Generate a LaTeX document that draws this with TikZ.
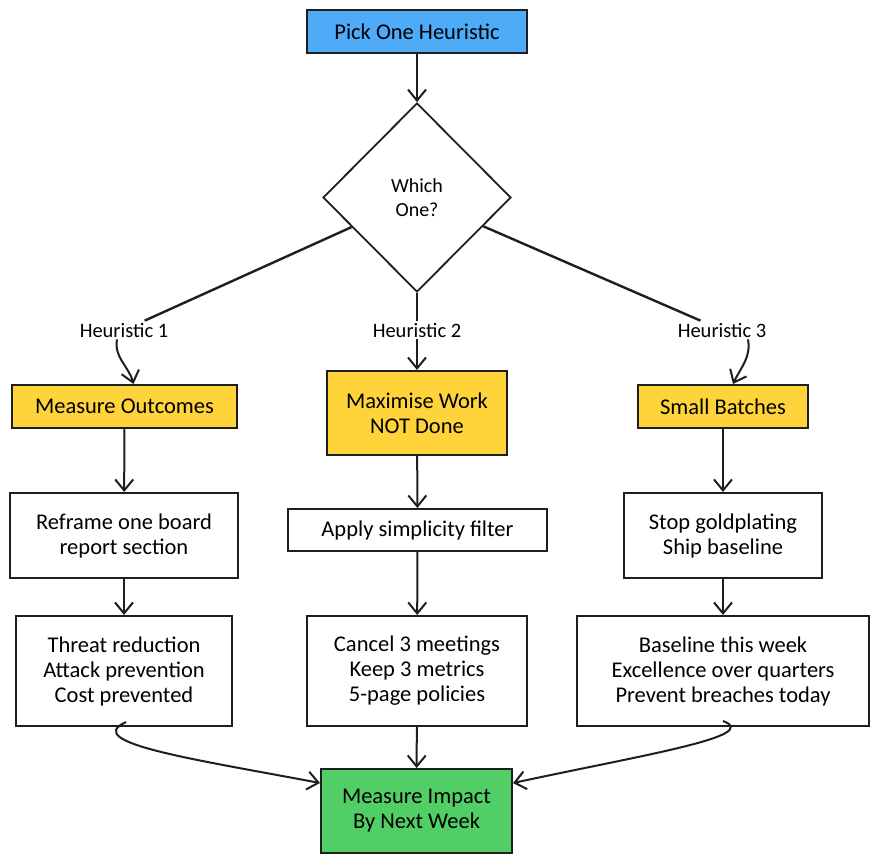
\documentclass[tikz,border=0pt]{standalone}
\usepackage{fontspec}
\setmainfont{Carlito}
\usetikzlibrary{arrows.meta,shapes.geometric}
\definecolor{inkline}{HTML}{1E1E1E}
\definecolor{pickblue}{HTML}{4DABF7}
\definecolor{heuryellow}{HTML}{FFD43B}
\definecolor{donegreen}{HTML}{51CF66}

\begin{document}
\begin{tikzpicture}[
	x=1pt, y=-1pt,
	box/.style={draw=inkline, line width=2pt, fill=white, align=center,
		inner sep=2pt, font=\fontsize{22.5}{25}\selectfont},
	decision/.style={diamond, draw=inkline, line width=1.8pt, fill=white, align=center,
		inner sep=0pt, minimum width=188pt, minimum height=189pt,
		font=\fontsize{20}{24}\selectfont},
	hlabel/.style={inner sep=2pt, font=\fontsize{20.5}{22}\selectfont},
	flow/.style={draw=inkline, line width=2pt,
		-{Straight Barb[length=11pt,width=18pt,line width=2pt]}},
	joint/.style={draw=inkline, line width=2.4pt}]
\useasboundingbox (0,0) rectangle (880,863);

% start and decision
\node[box, fill=pickblue, minimum width=220pt, minimum height=43pt] (pick) at (417,31.5) {Pick One Heuristic};
\node[decision] (which) at (417,197.5) {Which\\One?};

\node[hlabel] (h1) at (124,330) {Heuristic 1};
\node[hlabel] (h2) at (417,330) {Heuristic 2};
\node[hlabel] (h3) at (722,330) {Heuristic 3};

% heuristics
\node[box, fill=heuryellow, minimum width=225pt, minimum height=43pt] (outcomes) at (124.5,406.5) {Measure Outcomes};
\node[box, fill=heuryellow, minimum width=180pt, minimum height=84pt] (notdone) at (417,413) {Maximise Work\\NOT Done};
\node[box, fill=heuryellow, minimum width=170pt, minimum height=43pt] (batches) at (723,406.5) {Small Batches};

% actions
\node[box, minimum width=228pt, minimum height=85pt] (reframe) at (124,535.5) {Reframe one board\\report section};
\node[box, minimum width=259pt, minimum height=42pt] (filter) at (417.5,530) {Apply simplicity filter};
\node[box, minimum width=198pt, minimum height=85pt] (goldplate) at (723,535.5) {Stop goldplating\\Ship baseline};

\node[box, minimum width=216pt, minimum height=110pt] (threat) at (124,671) {Threat reduction\\Attack prevention\\Cost prevented};
\node[box, minimum width=220pt, minimum height=110pt] (meetings) at (417,671) {Cancel 3 meetings\\Keep 3 metrics\\5-page policies};
\node[box, minimum width=292pt, minimum height=110pt] (baseline) at (723,671) {Baseline this week\\Excellence over quarters\\Prevent breaches today};

\node[box, fill=donegreen, minimum width=191pt, minimum height=84pt] (impact) at (416.5,811) {Measure Impact\\By Next Week};

% connectors
\draw[flow] (pick) -- (which);
\draw[joint] (which) -- (h1);
\draw[joint] (which) -- (h2);
\draw[joint] (which) -- (h3);
\draw[flow] ([xshift=-7pt]h1.south) to[out=-100,in=105] ([xshift=9pt]outcomes.north);
\draw[flow] (h2) -- (notdone);
\draw[flow] ([xshift=26pt]h3.south) to[out=-80,in=65] ([xshift=10pt]batches.north);

\draw[flow] (outcomes) -- (reframe);
\draw[flow] (notdone) -- (filter);
\draw[flow] (batches) -- (goldplate);
\draw[flow] (reframe) -- (threat);
\draw[flow] (filter) -- (meetings);
\draw[flow] (goldplate) -- (baseline);

\draw[flow] ([xshift=2pt,yshift=5pt]threat.south) .. controls +(-46,21) and +(-121,-23) .. ([yshift=28pt]impact.west);
\draw[flow] (meetings) -- (impact);
\draw[flow] ([yshift=6pt]baseline.south) .. controls +(40,15) and +(130,-28) .. ([yshift=28pt]impact.east);
\end{tikzpicture}
\end{document}
